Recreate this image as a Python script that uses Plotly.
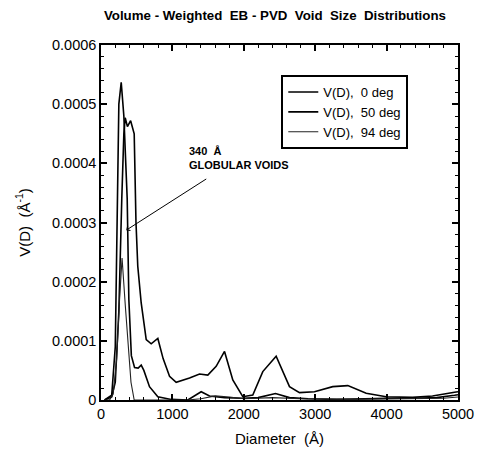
import plotly.graph_objects as go

# ---- data ----
d_0deg = [50, 150, 200, 235, 250, 283, 320, 367, 390, 425, 470, 520, 563, 600, 679, 796, 983,
          1216, 1403, 1520, 1613, 1730, 1986, 2200, 2444, 2640, 2900, 3300, 3700, 4000, 4400,
          4700, 4951, 5000]
v_0deg = [0, 0.000008, 0.00009, 0.00034, 0.0005, 0.000537, 0.00048, 0.00034, 0.00017, 0.000075,
          0.000055, 0.000054, 0.000059, 0.00005, 0.0000225, 0.0000056, 0.000001, 0, 0.000014,
          0.0000068, 0.0000056, 0.000004, 0.000003, 0.000004, 0.000011, 0.000004, 0.000002,
          0.000001, 0.000002, 0.000003, 0.000003, 0.000004, 0.000008, 0.000009]

d_50deg = [50, 150, 200, 250, 291, 320, 339, 370, 415, 465, 490, 515, 563, 633, 703, 796, 870, 960,
           1053, 1240, 1380, 1496, 1613, 1730, 1846, 1986, 2126, 2266, 2453, 2640, 2780, 2990,
           3246, 3457, 3714, 3994, 4363, 4643, 4951, 5000]
v_50deg = [0, 0.000005, 0.00003, 0.00015, 0.00034, 0.00045, 0.000477, 0.000462, 0.000472, 0.00045,
           0.0003, 0.000226, 0.000164, 0.000102, 0.000095, 0.000104, 0.00007, 0.00004, 0.00003,
           0.000037, 0.000044, 0.000042, 0.000057, 0.000082, 0.000034, 0.0000056, 0.0000085,
           0.000048, 0.000074, 0.0000225, 0.0000124, 0.000014, 0.0000226, 0.0000243, 0.0000113,
           0.0000056, 0.0000045, 0.0000068, 0.000013, 0.000014]

d_94deg = [50, 120, 170, 220, 260, 295, 340, 380, 420, 465, 600, 1000, 1200, 1400, 1600, 1800,
           2000, 2400, 2800, 3500, 4000, 4500, 4800, 5000]
v_94deg = [0, 0, 0.00001, 0.00007, 0.00017, 0.00024, 0.00016, 0.00009, 0.00003, 0, 0, 0, 0,
           0.000002, 0.000007, 0.000005, 0.000002, 0.000004, 0.000002, 0.000001, 0.000002,
           0.000002, 0.000003, 0.000005]

series_names = ["V(D),  0 deg", "V(D),  50 deg", "V(D),  94 deg"]

x_tickvals = [0, 1000, 2000, 3000, 4000, 5000]
x_ticktext = ["0", "1000", "2000", "3000", "4000", "5000"]
y_tickvals = [0, 0.0001, 0.0002, 0.0003, 0.0004, 0.0005, 0.0006]
y_ticktext = ["0", "0.0001", "0.0002", "0.0003", "0.0004", "0.0005", "0.0006"]

# annotation: arrow tip (data) and label centre (data)
arrow_tip = (353, 0.000287)
label_pos = (1933, 0.000409)

FONT = "Arial, Liberation Sans, sans-serif"

fig = go.Figure()
fig.add_trace(go.Scatter(x=d_0deg, y=v_0deg, mode="lines", name=series_names[0],
                         line=dict(color="black", width=1.6)))
fig.add_trace(go.Scatter(x=d_50deg, y=v_50deg, mode="lines", name=series_names[1],
                         line=dict(color="black", width=1.6)))
fig.add_trace(go.Scatter(x=d_94deg, y=v_94deg, mode="lines", name=series_names[2],
                         line=dict(color="#222222", width=1.1)))

axis_common = dict(
    showline=True, linecolor="black", linewidth=1.5, mirror="allticks",
    ticks="inside", ticklen=6, tickwidth=1.5, tickcolor="black",
    showgrid=False, zeroline=False, automargin=False, ticklabeloverflow="allow",
    tickfont=dict(family=FONT, size=14.5, color="black"),
)

fig.update_xaxes(range=[0, 5000], tickmode="array", tickvals=x_tickvals, ticktext=x_ticktext,
                 minor=dict(ticks="inside", ticklen=3, tickwidth=1, tickcolor="black", dtick=200),
                 title=dict(text="Diameter  (Å)", font=dict(family=FONT, size=15, color="black"),
                            standoff=12),
                 **axis_common)
fig.update_yaxes(range=[0, 0.0006], tickmode="array", tickvals=y_tickvals, ticktext=y_ticktext,
                 minor=dict(ticks="inside", ticklen=3, tickwidth=1, tickcolor="black", dtick=0.00002),
                 title=dict(text="V(D)  (Å<sup>-1</sup>)", font=dict(family=FONT, size=15, color="black"),
                            standoff=18),
                 **axis_common)

fig.add_annotation(x=arrow_tip[0], y=arrow_tip[1], ax=label_pos[0], ay=label_pos[1],
                   xref="x", yref="y", axref="x", ayref="y",
                   text="<b>340  Å<br>GLOBULAR VOIDS</b>", align="left",
                   showarrow=True, arrowhead=4, arrowsize=1, arrowwidth=1,
                   arrowcolor="black", startstandoff=12,
                   font=dict(family=FONT, size=11, color="black"))

fig.update_layout(
    width=479, height=452,
    margin=dict(l=101, r=21, t=45, b=52),
    paper_bgcolor="white", plot_bgcolor="white",
    title=dict(text="<b>Volume - Weighted  EB - PVD  Void  Size  Distributions</b>",
               x=0.574, xanchor="center", y=0.967, yanchor="middle",
               font=dict(family=FONT, size=13.3, color="black")),
    legend=dict(x=0.505, y=0.9155, xanchor="left", yanchor="top",
                bordercolor="black", borderwidth=2, bgcolor="white",
                font=dict(family=FONT, size=13, color="black"),
                tracegroupgap=0, itemwidth=30),
    showlegend=True,
)

fig.write_html("out.html", config={"displayModeBar": False},
               post_script="document.body.style.margin='0';document.body.style.overflow='hidden';")
